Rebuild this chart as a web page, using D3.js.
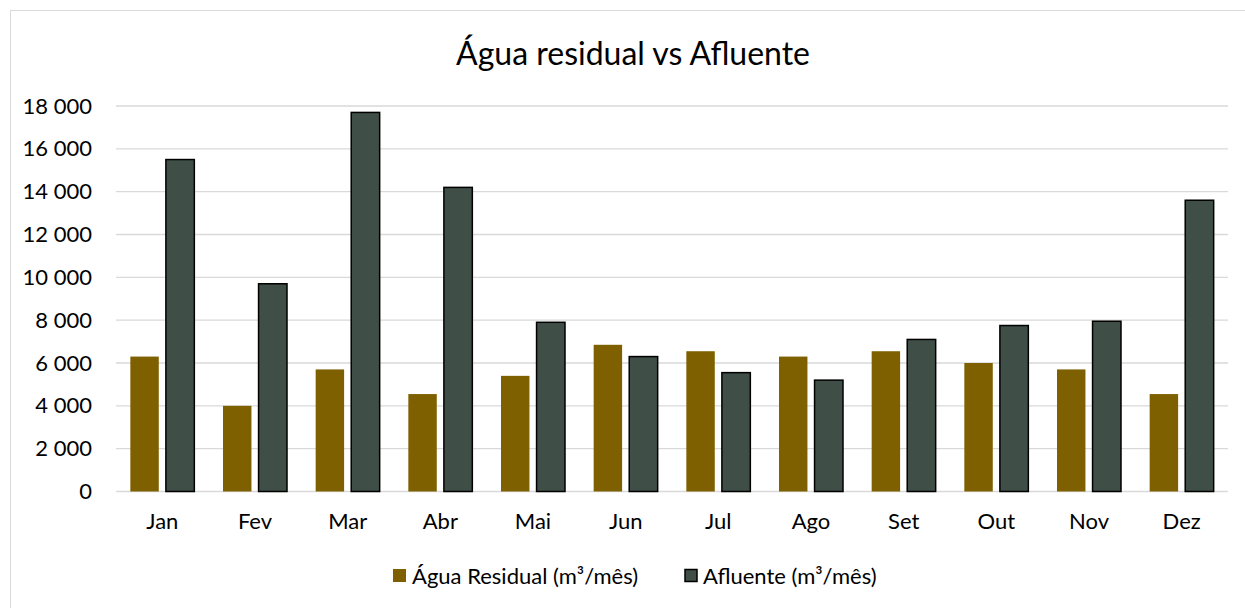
<!DOCTYPE html>
<html>
<head>
<meta charset="utf-8">
<script src="https://cdn.jsdelivr.net/npm/d3@7"></script>
<style>
  body { margin: 0; background: #fff; }
  svg text { font-family: Lato, "Open Sans", sans-serif; fill: #000; }
</style>
</head>
<body>
<svg class="chart"></svg>
<script>
// valores (m³/mês)
var meses = ["Jan", "Fev", "Mar", "Abr", "Mai", "Jun", "Jul", "Ago", "Set", "Out", "Nov", "Dez"]
var residual = [6300, 4000, 5700, 4550, 5400, 6850, 6550, 6300, 6550, 6000, 5700, 4550]
var afluente = [15500, 9700, 17700, 14200, 7900, 6300, 5550, 5200, 7100, 7750, 7950, 13600]
var series = ["Água Residual (m³/mês)", "Afluente (m³/mês)"]
var yTicks = [0, 2000, 4000, 6000, 8000, 10000, 12000, 14000, 16000, 18000]

var width = 1245;
var height = 608;
var plotLeft = 116, plotRight = 1228, plotTop = 106, plotBottom = 491.5;

var pt = d3.formatLocale({decimal: ",", thousands: " ", grouping: [3], currency: ["", ""]});
var fmt = pt.format(",d");

var svg = d3.select(".chart")
            .attr("width", width)
            .attr("height", height)

// moldura do gráfico
svg.append("rect")
    .attr("x", 10.5).attr("y", 10.5)
    .attr("width", 1245).attr("height", 610)
    .attr("fill", "#fff")
    .attr("stroke", "#d9d9d9");

var x = d3.scaleBand()
            .domain(meses)
            .range([plotLeft, plotRight]);

var x1 = d3.scaleBand()
            .domain([0, 1])
            .range([x.bandwidth() / 2 - 32, x.bandwidth() / 2 + 32])
            .paddingInner(0.2);

var y = d3.scaleLinear()
            .domain([0, 18000])
            .range([plotBottom, plotTop]);

// linhas de grade
svg.append("g")
    .selectAll("line")
    .data(yTicks)
    .enter()
    .append("line")
    .attr("x1", plotLeft).attr("x2", plotRight)
    .attr("y1", function(d) { return y(d); })
    .attr("y2", function(d) { return y(d); })
    .attr("stroke", "#d9d9d9")
    .attr("stroke-width", 1.3);

var yAxis = d3.axisLeft(y)
                .tickValues(yTicks)
                .tickFormat(fmt)
                .tickSize(0)
                .tickPadding(24);

var gy = svg.append("g")
    .attr("transform", "translate(" + plotLeft + ",0)")
    .call(yAxis);
gy.select(".domain").remove();
gy.selectAll("text").style("font-size", "22px").attr("fill", "#000");

var xAxis = d3.axisBottom(x)
                .tickSize(0)
                .tickPadding(22);

var gx = svg.append("g")
    .attr("transform", "translate(0," + plotBottom + ")")
    .call(xAxis);
gx.select(".domain").remove();
gx.selectAll("text").style("font-size", "22px").attr("fill", "#000");

var grupos = svg.append("g")
    .selectAll("g")
    .data(meses)
    .enter()
    .append("g")
    .attr("transform", function(d) { return "translate(" + x(d) + ",0)"; });

grupos.append("rect")
    .attr("x", x1(0))
    .attr("width", x1.bandwidth())
    .attr("y", function(d, i) { return y(residual[i]); })
    .attr("height", function(d, i) { return plotBottom - y(residual[i]); })
    .attr("fill", "#7f6000");

grupos.append("rect")
    .attr("x", x1(1))
    .attr("width", x1.bandwidth())
    .attr("y", function(d, i) { return y(afluente[i]); })
    .attr("height", function(d, i) { return plotBottom - y(afluente[i]); })
    .attr("fill", "#3f4f47")
    .attr("stroke", "#000")
    .attr("stroke-width", 1.5);

// título
svg.append("text")
    .attr("x", 633)
    .attr("y", 65)
    .attr("text-anchor", "middle")
    .style("font-size", "32px")
    .text("Água residual vs Afluente");

// legenda
var leg = svg.append("g");
leg.append("rect")
    .attr("x", 393).attr("y", 569).attr("width", 13).attr("height", 13)
    .attr("fill", "#7f6000");
leg.append("text")
    .attr("x", 412).attr("y", 584)
    .style("font-size", "22px")
    .text(series[0]);
leg.append("rect")
    .attr("x", 685).attr("y", 569.5).attr("width", 12).attr("height", 12)
    .attr("fill", "#3f4f47")
    .attr("stroke", "#000")
    .attr("stroke-width", 1.5);
leg.append("text")
    .attr("x", 703).attr("y", 584)
    .style("font-size", "22px")
    .text(series[1]);
</script>
</body>
</html>
